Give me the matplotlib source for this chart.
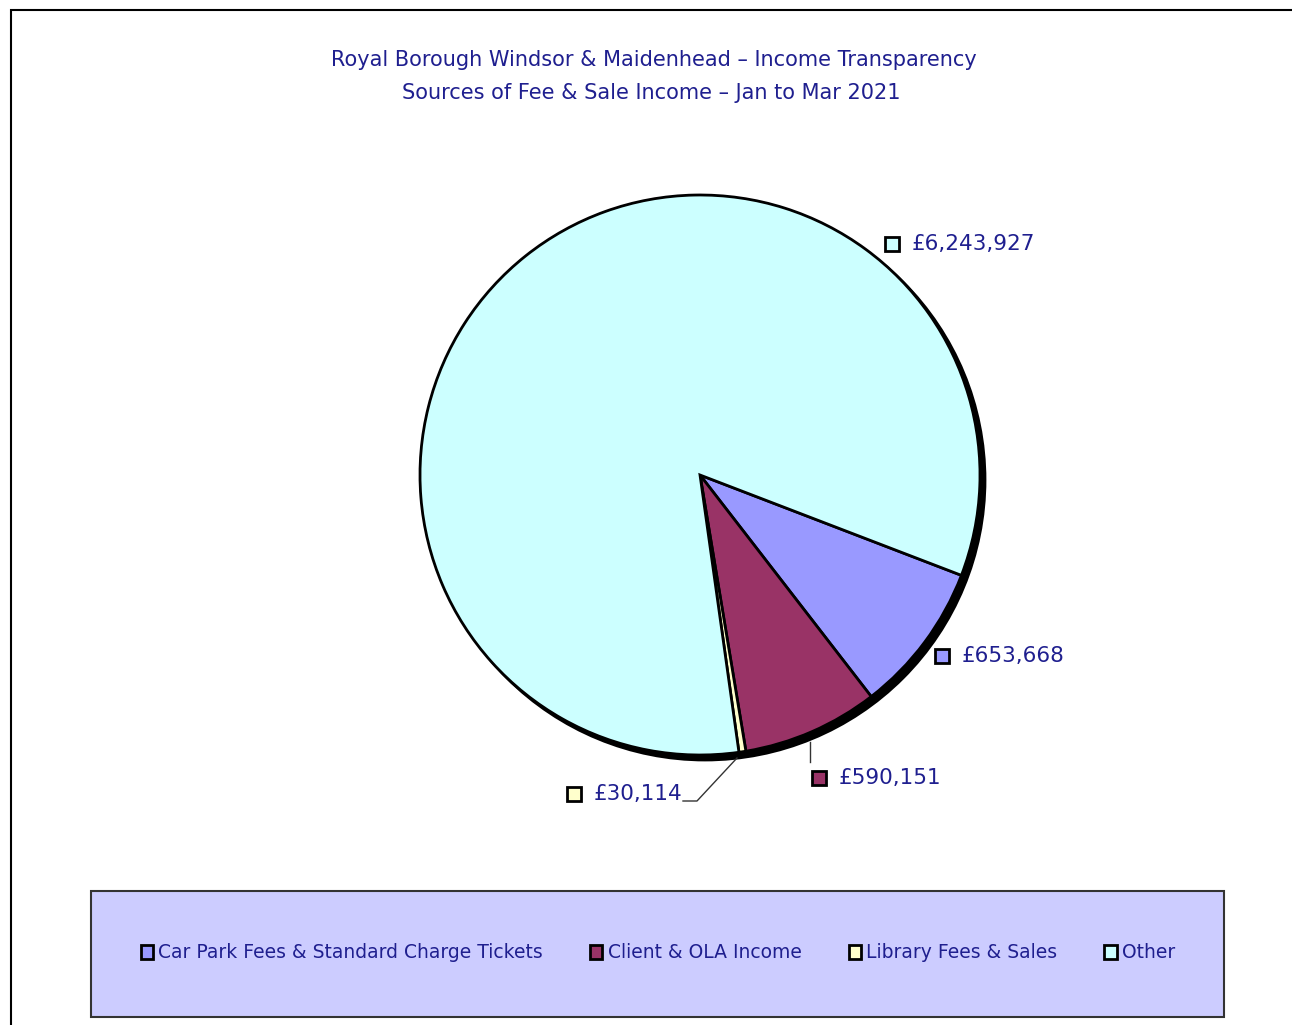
import matplotlib
matplotlib.use("Agg")
import matplotlib.pyplot as plt
from matplotlib.patches import Circle, Rectangle
import numpy as np

# ---- data ----
categories = ["Car Park Fees & Standard Charge Tickets", "Client & OLA Income",
              "Library Fees & Sales", "Other"]
values = [653668, 590151, 30114, 6243927]
value_labels = ["£653,668", "£590,151", "£30,114", "£6,243,927"]
colors = ["#9999FF", "#993366", "#FFFFCC", "#CCFFFF"]
title_lines = ["Royal Borough Windsor & Maidenhead – Income Transparency",
               "Sources of Fee & Sale Income – Jan to Mar 2021"]

W, H = 1292, 1025
TXT = "#1F1F8F"
fig = plt.figure(figsize=(W / 100, H / 100), dpi=100)
ax = fig.add_axes([0, 0, 1, 1])

def Y(py):
    return H - py

# pie
cx, cy, r = 700, Y(475), 280
ax.add_patch(Circle((cx + 5, cy - 5), r, facecolor="black", edgecolor="black", lw=2, zorder=1))
wedges, _ = ax.pie(values, colors=colors, startangle=-21, counterclock=False,
                   center=(cx, cy), radius=r, frame=True,
                   wedgeprops=dict(edgecolor="black", linewidth=2, zorder=2))
ax.set_xlim(0, W)
ax.set_ylim(0, H)
ax.set_aspect("equal")
ax.axis("off")

# outer border
ax.add_patch(Rectangle((11, Y(1040)), 1300, 1030, fill=False, edgecolor="black", lw=1.5, zorder=0))

# title
ax.text(654, Y(60), title_lines[0], ha="center", va="center", color=TXT,
        fontsize=15, family="DejaVu Sans")
ax.text(651, Y(93), title_lines[1], ha="center", va="center", color=TXT,
        fontsize=15, family="DejaVu Sans")

# value labels with small square keys
label_pos = {0: (962, 656), 1: (839, 778), 2: (594, 794), 3: (912, 244)}
for i, (tx, ty) in label_pos.items():
    ax.add_patch(Rectangle((tx - 27, Y(ty) - 7), 14, 14, facecolor=colors[i],
                           edgecolor="black", lw=2, zorder=3))
    ax.text(tx, Y(ty), value_labels[i], ha="left", va="center", color=TXT,
            fontsize=15.5, family="DejaVu Sans")

# leader lines
ax.plot([810, 810], [Y(742), Y(762)], color="#333333", lw=1)
ax.plot([683, 697, 737], [Y(801), Y(801), Y(758)], color="#333333", lw=1)

# legend box
ax.add_patch(Rectangle((91, Y(1017)), 1133, 126, facecolor="#CCCCFF",
                       edgecolor="#333333", lw=1.5, zorder=1))
leg = ax.legend(wedges, categories, loc="center", bbox_to_anchor=(658, Y(953)),
                bbox_transform=ax.transData, ncol=4, frameon=False,
                prop=dict(family="DejaVu Sans", size=13.5),
                handlelength=0.65, handleheight=0.85, handletextpad=0.3,
                columnspacing=2.5, labelcolor=TXT)
for h in leg.legend_handles:
    h.set_linewidth(2)

fig.savefig("out.png", dpi=100)
